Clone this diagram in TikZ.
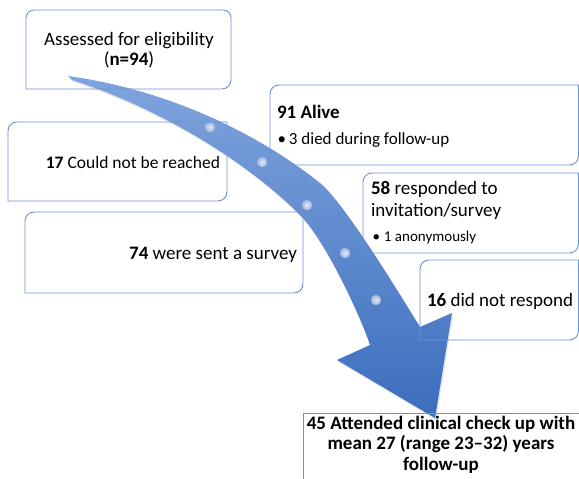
\documentclass[tikz,border=0pt]{standalone}
\usepackage{fontspec}
\setmainfont{Carlito}
\usetikzlibrary{calc}
\definecolor{boxblue}{RGB}{105,148,212}
\definecolor{arrowtop}{RGB}{128,164,221}
\definecolor{arrowbot}{RGB}{60,110,190}
\definecolor{dotin}{RGB}{226,232,245}
\definecolor{dotout}{RGB}{160,182,220}
\newcommand\arrowshape{(68,403) .. controls (170,389) and (260,344) .. (320,296) .. controls (345,276) and (405,176) .. (420,152) -- (452,166) -- (435,61) -- (337,119) -- (370,134) .. controls (360,164) and (325,239) .. (300,264) .. controls (240,324) and (150,374) .. (72,399) -- cycle}
\newcommand\diagbox[2][9]{%
  \draw[boxline] let \p1=(#2.south west), \p2=(#2.north east) in
    (\x1,\y1) -- (\x1,\y2-#1pt) arc[start angle=180,end angle=90,radius=#1pt]
    -- (\x2,\y2) -- (\x2,\y1+#1pt) arc[start angle=0,end angle=-90,radius=#1pt] -- cycle;}
\tikzset{
  boxline/.style={draw=boxblue, line width=0.9pt},
  frame/.style={draw=none, rectangle, inner sep=0pt, outer sep=0pt},
  txt/.style={inner sep=0pt, outer sep=0pt, text=black, font=\fontsize{19}{20}\selectfont},
  txtmid/.style={txt, font=\fontsize{17.5}{20}\selectfont},
  txtsmall/.style={txt, font=\fontsize{17}{20}\selectfont},
  txttiny/.style={txt, font=\fontsize{15}{18}\selectfont},
  dotball/.style={inner color=dotin, outer color=dotout},
}
\begin{document}
\begin{tikzpicture}[x=1pt,y=1pt]
\useasboundingbox (0,0) rectangle (579,479);
\clip (0,0) rectangle (579,479);
% arrow shadow and body
\begin{scope}[shift={(1.2,-2)}]
  \fill[black, opacity=0.10] \arrowshape;
\end{scope}
\shade[top color=arrowtop, bottom color=arrowbot] \arrowshape;
% dots on the arrow
\foreach \p in {(210,352),(262,317),(307,274),(345,226),(376,179)}
  \shade[dotball] \p circle[radius=5.2];
% box frames
\node[frame, minimum width=205pt, minimum height=79pt] (assess) at (128.5,429.5) {};
\node[frame, minimum width=219pt, minimum height=79pt] (unreach) at (117.5,317.5) {};
\node[frame, minimum width=278pt, minimum height=81pt] (sent) at (164,226.5) {};
\node[frame, minimum width=308.5pt, minimum height=80pt] (alive) at (424.25,354) {};
\node[frame, minimum width=215.5pt, minimum height=80pt] (resp) at (470.75,266) {};
\node[frame, minimum width=158.5pt, minimum height=80pt] (noresp) at (499.25,179) {};
\node[frame, minimum width=297pt, minimum height=87pt] (attend) at (451.5,22.5) {};
% outlines
\draw[boxline] let \p1=(assess.south west), \p2=(assess.north east) in
  (\x1,\y1) -- (\x1,\y2-8pt) arc[start angle=180,end angle=90,radius=8pt]
  -- (\x2-8pt,\y2) arc[start angle=90,end angle=0,radius=8pt]
  -- (\x2,\y1+9pt) arc[start angle=0,end angle=-90,radius=9pt] -- cycle;
\diagbox{unreach}
\diagbox{sent}
\diagbox{alive}
\diagbox{resp}
\diagbox{noresp}
\draw[boxline] (attend.south west) -- (attend.north west) -- (attend.north east);
% texts
\node[txt, anchor=base] (tassessA) at (129,433) {Assessed for eligibility};
\node[txt, anchor=base] (tassessB) at (129,413) {(\textbf{n=94})};
\node[txtmid, anchor=base east] (tunreach) at (220,310.7) {\textbf{17} Could not be reached};
\node[txt, anchor=base east] (tsent) at (297,219.7) {\textbf{74} were sent a survey};
\node[txt, anchor=base west] (talive) at (277,360.7) {\textbf{91 Alive}};
\node[txtsmall, anchor=base west] (tdied) at (277.5,334) {\makebox[11.5pt][l]{•}3 died during follow-up};
\node[txt, anchor=base west] (trespA) at (371,284.7) {\textbf{58} responded to};
\node[txt, anchor=base west] (trespB) at (371,262.3) {invitation/survey};
\node[txttiny, anchor=base west] (tanon) at (372.5,237.3) {\makebox[11.5pt][l]{•}1 anonymously};
\node[txt, anchor=base west] (tnoresp) at (427,172.3) {\textbf{16} did not respond};
\node[txt, anchor=base, font=\fontsize{19}{20}\bfseries] (tattA) at (441,49.7) {45 Attended clinical check up with};
\node[txt, anchor=base, font=\fontsize{19}{20}\bfseries] (tattB) at (441,29) {mean 27 (range 23–32) years};
\node[txt, anchor=base, font=\fontsize{19}{20}\bfseries] (tattC) at (441,8) {follow-up};
\end{tikzpicture}
\end{document}
